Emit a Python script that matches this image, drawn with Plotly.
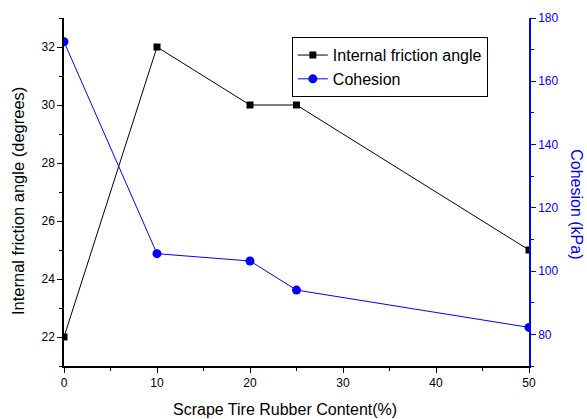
import plotly.graph_objects as go

rubber = [0, 10, 20, 25, 50]
friction = [22, 32, 30, 30, 25]
cohesion = [172.5, 105.5, 103.2, 94.0, 82.2]

FONT = "Liberation Sans, Arial, sans-serif"

fig = go.Figure()
fig.add_trace(go.Scatter(x=rubber, y=friction, mode="lines+markers", name="Internal friction angle",
                         line=dict(color="black", width=1),
                         marker=dict(symbol="square", size=7, color="black"),
                         yaxis="y", xaxis="x"))
fig.add_trace(go.Scatter(x=rubber, y=cohesion, mode="lines+markers", name="Cohesion",
                         line=dict(color="blue", width=1),
                         marker=dict(symbol="circle", size=9, color="blue"),
                         yaxis="y2", xaxis="x"))

fig.update_layout(
    width=587, height=419,
    margin=dict(l=64, r=58, t=18, b=53),
    paper_bgcolor="white", plot_bgcolor="white",
    font=dict(family=FONT, size=12, color="black"),
    showlegend=True,
    legend=dict(x=0.49, y=0.945, xanchor="left", yanchor="top",
                bordercolor="black", borderwidth=1, bgcolor="white",
                font=dict(size=16, family=FONT), tracegroupgap=0, itemwidth=30),
    xaxis=dict(range=[0, 50], tickmode="linear", tick0=0, dtick=10, showgrid=False, zeroline=False,
               showline=True, linecolor="black", linewidth=1.5,
               ticks="outside", ticklen=5, tickwidth=1, tickcolor="black",
               minor=dict(dtick=5, ticks="outside", ticklen=3, tickcolor="black", showgrid=False)),
    xaxis2=dict(range=[0, 50], overlaying="x", side="top", showgrid=False, zeroline=False,
                showline=True, linecolor="black", linewidth=1.5, showticklabels=False,
                tickmode="linear", tick0=0, dtick=5, ticks="inside", ticklen=3, tickcolor="black"),
    yaxis=dict(range=[21, 33], tickmode="linear", tick0=22, dtick=2, showgrid=False, zeroline=False,
               showline=True, linecolor="black", linewidth=1.5,
               ticks="outside", ticklen=5, tickwidth=1, tickcolor="black",
               minor=dict(dtick=1, ticks="outside", ticklen=3, tickcolor="black", showgrid=False)),
    yaxis2=dict(range=[70, 180], tickmode="linear", tick0=80, dtick=20, overlaying="y", side="right",
                showgrid=False, zeroline=False, showline=True, linecolor="blue", linewidth=1.5,
                ticks="outside", ticklen=5, tickwidth=1, tickcolor="blue",
                tickfont=dict(color="blue"),
                minor=dict(dtick=10, ticks="outside", ticklen=3, tickcolor="blue", showgrid=False)),
    annotations=[
        dict(text="Scrape Tire Rubber Content(%)", x=0.476, xref="paper", y=0, yref="paper",
             yshift=-43, yanchor="middle", showarrow=False,
             font=dict(size=16, color="black", family=FONT)),
        dict(text="Internal friction angle (degrees)", textangle=-90, x=0, xref="paper", xshift=-46,
             xanchor="center", y=0.474, yref="paper", showarrow=False,
             font=dict(size=16.5, color="black", family=FONT)),
        dict(text="Cohesion (kPa)", textangle=90, x=1.0, xref="paper", xshift=48, xanchor="center",
             y=0.465, yref="paper", showarrow=False,
             font=dict(size=16, color="blue", family=FONT)),
    ],
)

fig.write_html("out.html")
